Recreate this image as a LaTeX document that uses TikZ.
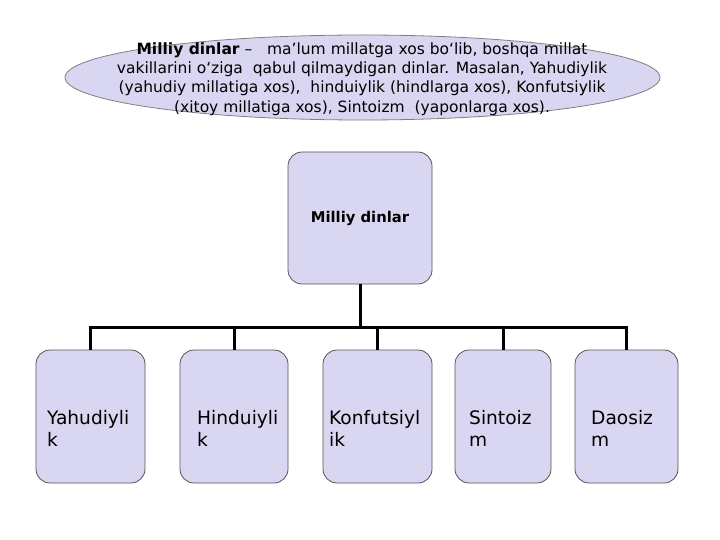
\documentclass[tikz,border=0pt]{standalone}
\usepackage{fontspec}
\setmainfont{DejaVu Sans}
\usetikzlibrary{shapes.geometric}
\definecolor{lav}{RGB}{217,214,241}
\definecolor{edge}{RGB}{85,85,85}
\tikzset{
  box/.style={draw=edge,fill=lav,rounded corners=14pt,line width=0.8pt},
  lbl/.style={anchor=north west,inner sep=0pt,align=left,font=\fontsize{18.6}{22}\selectfont},
  conn/.style={line width=3pt}
}
\begin{document}
\begin{tikzpicture}[x=1pt,y=-1pt]
\useasboundingbox (0,0) rectangle (720,540);
\coordinate (e) at (362.5,77.5);
\coordinate (m) at (360,218);
\coordinate (bar) at (360,327);
\coordinate (p1) at (90.5,416.5);
\coordinate (p2) at (234,416.5);
\coordinate (p3) at (377.5,416.5);
\coordinate (p4) at (503,416.5);
\coordinate (p5) at (626.5,416.5);
\node[ellipse,draw=gray,fill=lav,line width=0.8pt,minimum width=595pt,minimum height=85pt] (def) at (e) {};
\node[align=center,inner sep=0pt,font=\fontsize{15.5}{19.3}\selectfont] (deftext) at (362,79)
  {\textbf{Milliy dinlar} –\ \ \ ma’lum millatga xos bo‘lib, boshqa millat\\
   vakillarini o‘ziga\ \ qabul qilmaydigan dinlar. Masalan, Yahudiylik\\
   (yahudiy millatiga xos),\ \ hinduiylik (hindlarga xos), Konfutsiylik\\
   (xitoy millatiga xos), Sintoizm\ \ (yaponlarga xos).};
\node[box,minimum width=144pt,minimum height=132pt,font=\bfseries\fontsize{14.8}{18}\selectfont] (top) at (m) {Milliy dinlar};
\node[box,minimum width=109pt,minimum height=133pt] (y) at (p1) {};
\node[box,minimum width=108pt,minimum height=133pt] (h) at (p2) {};
\node[box,minimum width=109pt,minimum height=133pt] (k) at (p3) {};
\node[box,minimum width=96pt,minimum height=133pt] (s) at (p4) {};
\node[box,minimum width=103pt,minimum height=133pt] (d) at (p5) {};
\node[lbl] (ty) at (47,410) {Yahudiyli\\k};
\node[lbl] (th) at (197,410) {Hinduiyli\\k};
\node[lbl] (tk) at (329,410) {Konfutsiyl\\ik};
\node[lbl] (ts) at (469,410) {Sintoiz\\m};
\node[lbl] (td) at (591,410) {Daosiz\\m};
\draw[conn] (top.south) -- (bar);
\foreach \b in {y,h,k,s,d}
  \draw[conn] (bar) -| (\b.north);
\end{tikzpicture}
\end{document}
